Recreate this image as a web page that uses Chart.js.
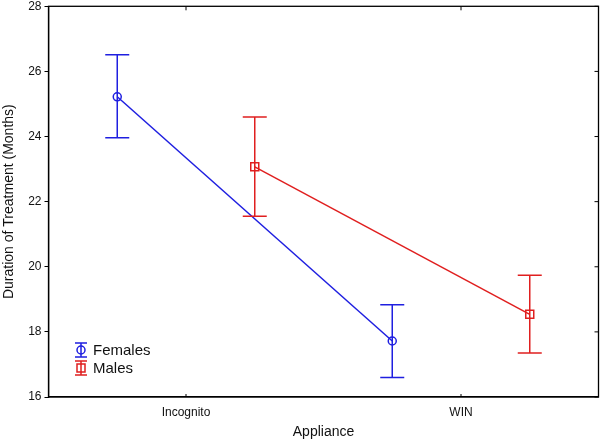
<!DOCTYPE html>
<html><head><meta charset="utf-8">
<script src="https://cdn.jsdelivr.net/npm/chart.js@4"></script>
<style>html,body{margin:0;padding:0;background:#fff}#wrap{width:600px;height:441px;position:relative}</style>
</head><body><div id="wrap"><canvas id="c" width="600" height="441"></canvas></div>
<script>
const categories = ['Incognito', 'WIN'];
const seriesNames = ['Females', 'Males'];
const femalesMean = [25.22, 17.72];
const femalesLow  = [23.96, 16.60];
const femalesHigh = [26.51, 18.83];
const malesMean   = [23.07, 18.54];
const malesLow    = [21.55, 17.35];
const malesHigh   = [24.60, 19.74];
const yTicks = [16, 18, 20, 22, 24, 26, 28];
const catPos = [2, 6];
const femOffset = -1, maleOffset = 1;

const BLUE = '#1f1fe0';
const RED = '#e01f1f';

function pts(means, off) { return means.map((m, i) => ({ x: catPos[i] + off, y: m })); }

const errData = [
  { mean: femalesMean, low: femalesLow, high: femalesHigh, off: femOffset, color: BLUE, shape: 'circle' },
  { mean: malesMean, low: malesLow, high: malesHigh, off: maleOffset, color: RED, shape: 'rect' }
];

const errorBars = {
  id: 'errorBars',
  afterDatasetsDraw(chart) {
    const { ctx, scales: { x, y } } = chart;
    ctx.save();
    ctx.lineWidth = 1.5;
    errData.forEach(s => {
      ctx.strokeStyle = s.color;
      s.low.forEach((lo, i) => {
        const px = x.getPixelForValue(catPos[i] + s.off);
        const pl = y.getPixelForValue(lo), ph = y.getPixelForValue(s.high[i]);
        const pm = y.getPixelForValue(s.mean[i]);
        ctx.beginPath();
        ctx.moveTo(px, pl); ctx.lineTo(px, ph);
        ctx.moveTo(px - 12, pl); ctx.lineTo(px + 12, pl);
        ctx.moveTo(px - 12, ph); ctx.lineTo(px + 12, ph);
        ctx.stroke();
        ctx.beginPath();
        if (s.shape === 'circle') ctx.arc(px, pm, 4, 0, Math.PI * 2);
        else ctx.rect(px - 4, pm - 4, 8, 8);
        ctx.stroke();
      });
    });
    ctx.restore();
  },
  afterDraw(chart) {
    const { ctx, chartArea: a, scales: { x, y } } = chart;
    ctx.save();
    ctx.strokeStyle = '#000';
    ctx.lineWidth = 1.3;
    ctx.strokeRect(a.left, a.top, a.right - a.left, a.bottom - a.top);
    ctx.lineWidth = 1;
    ctx.beginPath();
    yTicks.forEach(v => {
      const py = y.getPixelForValue(v);
      ctx.moveTo(a.right, py); ctx.lineTo(a.right - 4, py);
    });
    catPos.forEach(v => {
      const px = x.getPixelForValue(v);
      ctx.moveTo(px, a.top); ctx.lineTo(px, a.top + 4);
      ctx.moveTo(px, a.bottom); ctx.lineTo(px, a.bottom - 3);
    });
    ctx.stroke();
    // legend
    const items = [
      { name: seriesNames[0], color: BLUE, shape: 'circle', yy: 350 },
      { name: seriesNames[1], color: RED, shape: 'rect', yy: 368 }
    ];
    ctx.font = '15px "Liberation Sans", Arial, sans-serif';
    ctx.textBaseline = 'middle';
    items.forEach(it => {
      const cx = 81;
      ctx.strokeStyle = it.color; ctx.lineWidth = 1.5;
      ctx.beginPath();
      ctx.moveTo(cx, it.yy - 7); ctx.lineTo(cx, it.yy + 7);
      ctx.moveTo(cx - 6, it.yy - 7); ctx.lineTo(cx + 6, it.yy - 7);
      ctx.moveTo(cx - 6, it.yy + 7); ctx.lineTo(cx + 6, it.yy + 7);
      ctx.stroke();
      ctx.beginPath();
      if (it.shape === 'circle') ctx.arc(cx, it.yy, 4, 0, Math.PI * 2);
      else ctx.rect(cx - 4, it.yy - 4, 8, 8);
      ctx.stroke();
      ctx.fillStyle = '#111';
      ctx.fillText(it.name, 93, it.yy + 0.5);
    });
    ctx.restore();
  }
};

new Chart(document.getElementById('c'), {
  type: 'scatter',
  data: {
    datasets: [
      { label: seriesNames[0], data: pts(femalesMean, femOffset), showLine: true,
        borderColor: BLUE, backgroundColor: 'rgba(0,0,0,0)', borderWidth: 1.5,
        pointRadius: 0, pointHoverRadius: 0, pointHitRadius: 0 },
      { label: seriesNames[1], data: pts(malesMean, maleOffset), showLine: true,
        borderColor: RED, backgroundColor: 'rgba(0,0,0,0)', borderWidth: 1.5,
        pointRadius: 0, pointHoverRadius: 0, pointHitRadius: 0 }
    ]
  },
  options: {
    responsive: false,
    animation: false,
    events: [],
    layout: { padding: { top: 6.3, right: 1.5, left: 0, bottom: 0 } },
    plugins: { legend: { display: false }, tooltip: { enabled: false } },
    scales: {
      x: {
        type: 'linear', min: 0, max: 8,
        afterFit(s) { s.height = 44; s.paddingLeft = 0; s.paddingRight = 0; },
        afterBuildTicks(s) { s.ticks = catPos.map(v => ({ value: v })); },
        ticks: {
          callback(v) { const i = catPos.indexOf(v); return i >= 0 ? categories[i] : ''; },
          font: { family: '"Liberation Sans", Arial, sans-serif', size: 12 }, color: '#111',
          padding: 8, maxRotation: 0
        },
        grid: { drawOnChartArea: false, drawTicks: false },
        border: { color: '#000', width: 1.3 },
        title: { display: true, text: 'Appliance', color: '#111',
          font: { family: '"Liberation Sans", Arial, sans-serif', size: 14 }, padding: { top: 0, bottom: 0 } }
      },
      y: {
        min: 16, max: 28,
        afterFit(s) { s.width = 48.5; s.paddingTop = 0; s.paddingBottom = 0; },
        afterBuildTicks(s) { s.ticks = yTicks.map(v => ({ value: v })); },
        ticks: { font: { family: '"Liberation Sans", Arial, sans-serif', size: 12 }, color: '#111', padding: 3 },
        grid: { drawOnChartArea: false, drawTicks: true, tickLength: 4, color: '#000' },
        border: { color: '#000', width: 1.3 },
        title: { display: true, text: 'Duration of Treatment (Months)', color: '#111',
          font: { family: '"Liberation Sans", Arial, sans-serif', size: 14 }, padding: { top: 1, bottom: 0 } }
      }
    }
  },
  plugins: [errorBars]
});
</script></body></html>
